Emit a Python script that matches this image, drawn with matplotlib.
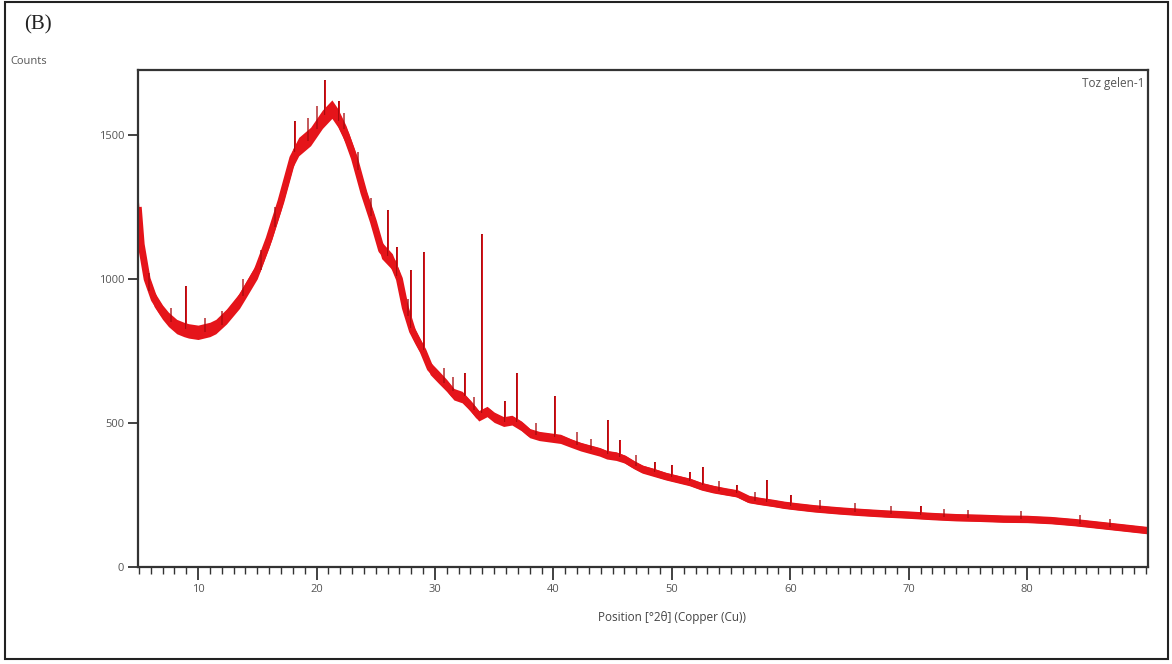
import matplotlib
matplotlib.use("Agg")
import matplotlib.pyplot as plt
from matplotlib.patches import Rectangle
from matplotlib.ticker import MultipleLocator

# ---- data ----
# smooth centre of the noisy band (2theta, counts)
base_x = [4.95, 5.2, 5.7, 6.3, 7.0, 7.5, 8.2, 8.8, 9.2, 10.0, 11.0, 11.5, 12.4, 13.5,
          14.0, 15.0, 16.0, 17.0, 18.0, 18.5, 19.5, 20.5, 21.3, 21.8, 22.5, 23.2, 24.0,
          24.8, 25.5, 26.4, 27.0, 27.5, 28.1, 28.6, 29.0, 29.6, 30.3, 31.0, 31.6, 32.3,
          33.0, 33.7, 34.4, 35.0, 35.8, 36.5, 37.3, 38.0, 38.8, 39.7, 40.6, 41.5, 42.3,
          43.0, 43.9, 44.5, 45.3, 46.0, 46.8, 47.5, 48.5, 49.5, 50.5, 51.5, 52.5, 53.5,
          54.5, 55.5, 56.5, 57.5, 58.5, 59.5, 60.5, 62.0, 64.0, 66.0, 68.0, 70.0, 72.0,
          74.0, 76.0, 78.0, 80.0, 82.0, 84.0, 86.0, 88.0, 90.2]
base_y = [1250, 1120, 1000, 930, 885, 860, 835, 825, 820, 815, 825, 835, 870, 925,
          960, 1030, 1140, 1270, 1420, 1460, 1495, 1555, 1590, 1560, 1500, 1420, 1300,
          1200, 1100, 1060, 1000, 900, 820, 780, 750, 690, 660, 630, 600, 590,
          560, 525, 540, 520, 505, 510, 490, 465, 455, 450, 445, 430, 418,
          410, 400, 390, 385, 375, 355, 340, 328, 315, 305, 295, 280, 270,
          262, 255, 235, 228, 222, 215, 210, 203, 196, 190, 185, 181, 176,
          172, 170, 167, 166, 162, 155, 146, 137, 127]
# half-thickness of the noisy band (counts) at each base point
band_half = [30, 30, 28, 26, 25, 25, 25, 25, 25, 25, 25, 25, 26, 27,
             28, 29, 30, 31, 32, 32, 32, 32, 32, 32, 32, 31, 30,
             30, 29, 28, 27, 26, 25, 24, 23, 22, 22, 21, 20, 20,
             19, 18, 18, 18, 17, 17, 17, 16, 16, 16, 16, 15, 15,
             15, 15, 15, 15, 14, 14, 14, 14, 13, 13, 13, 13, 13,
             12, 12, 12, 12, 12, 12, 12, 12, 12, 12, 12, 12, 12,
             12, 12, 12, 12, 12, 12, 12, 12, 12]

# sharp reflections: position, foot, top
peak_x = [8.95, 18.2, 20.7, 21.9, 26.0, 26.8, 28.0, 29.1, 32.5, 34.0, 35.9, 36.9,
          40.1, 44.6, 45.6, 48.6, 50.0, 51.5, 52.6, 55.5, 58.0, 60.1, 71.0]
peak_foot = [825, 1440, 1570, 1550, 1080, 1010, 830, 755, 595, 535, 505, 505,
             450, 392, 383, 330, 312, 300, 285, 256, 226, 212, 180]
peak_top = [975, 1550, 1690, 1620, 1240, 1110, 1030, 1095, 675, 1155, 575, 675,
            595, 510, 440, 365, 354, 330, 347, 285, 302, 250, 212]

# small noise spikes visible along the band: position, foot, top
spike_x = [5.9, 7.7, 10.6, 12.0, 13.8, 15.3, 16.5, 19.3, 20.0, 22.3, 23.5, 24.6,
           27.7, 30.8, 31.5, 33.3, 38.5, 42.0, 43.2, 47.0, 54.0, 57.0, 62.5, 65.5,
           68.5, 73.0, 75.0, 79.5, 84.5, 87.0]
spike_foot = [960, 850, 815, 840, 940, 1030, 1180, 1480, 1520, 1520, 1380, 1220,
              870, 640, 610, 545, 458, 425, 405, 350, 265, 230, 200, 190,
              183, 174, 170, 166, 150, 140]
spike_top = [1020, 900, 865, 890, 1000, 1100, 1250, 1560, 1600, 1575, 1440, 1280,
             930, 690, 660, 590, 500, 470, 445, 390, 300, 262, 232, 222,
             212, 200, 198, 195, 180, 166]

x_ticks = [10, 20, 30, 40, 50, 60, 70, 80]
y_ticks = [0, 500, 1000, 1500]

W, H = 1172, 664
fig = plt.figure(figsize=(W / 100, H / 100), dpi=100)
fig.patch.set_facecolor("white")

ax = fig.add_axes([138 / W, 1 - 567 / H, (1148 - 138) / W, (567 - 70) / H])

red = "#e5141a"
dark = "#a80a0e"
lower = [b - h for b, h in zip(base_y, band_half)]
upper = [b + h for b, h in zip(base_y, band_half)]
ax.fill_between(base_x, lower, upper, color=red, lw=0, zorder=2)
ax.plot(base_x, base_y, color=red, lw=5.0, solid_joinstyle="round",
        solid_capstyle="butt", zorder=2)
ax.vlines(spike_x, spike_foot, spike_top, color=dark, lw=1.2, alpha=0.8, zorder=3)
ax.vlines(peak_x, peak_foot, peak_top, color=dark, lw=1.4, zorder=4)
ax.vlines(peak_x, peak_foot, peak_top, color=red, lw=0.6, zorder=5)

ax.set_xlim(4.93, 90.2)
ax.set_ylim(0, 1726)
ax.set_xticks(x_ticks)
ax.set_yticks(y_ticks)
ax.xaxis.set_minor_locator(MultipleLocator(1))

tick_col = "#555555"
for s in ax.spines.values():
    s.set_color("#333333")
    s.set_linewidth(1.6)
ax.tick_params(axis="x", which="major", direction="out", length=9, width=1.3,
               color="#333333", labelsize=8, labelcolor=tick_col, pad=3,
               labelfontfamily="Open Sans")
ax.tick_params(axis="y", which="major", direction="out", length=7, width=1.3,
               color="#333333", labelsize=8, labelcolor=tick_col, pad=3,
               labelfontfamily="Open Sans")
ax.tick_params(axis="x", which="minor", direction="out", length=5, width=1.0,
               color="#333333")

ax.text(0.997, 0.985, "Toz gelen-1", transform=ax.transAxes, ha="right", va="top",
        fontsize=8.5, color="#555555", family="Open Sans")

fig.text(672 / W, 1 - 618 / H, "Position [°2θ] (Copper (Cu))", ha="center", va="center",
         fontsize=8.5, color="#444444", family="Open Sans")
fig.text(10 / W, 1 - 61 / H, "Counts", ha="left", va="center",
         fontsize=8, color="#555555", family="Open Sans")
fig.text(24 / W, 1 - 25 / H, "(B)", ha="left", va="center",
         fontsize=15, color="#222222", family="Liberation Serif")

fig.add_artist(Rectangle((5 / W, 1 - 659 / H), (1168 - 5) / W, (659 - 2) / H,
                         transform=fig.transFigure, fill=False,
                         edgecolor="#222222", lw=1.5))

fig.savefig("out.png", dpi=100, facecolor="white")
